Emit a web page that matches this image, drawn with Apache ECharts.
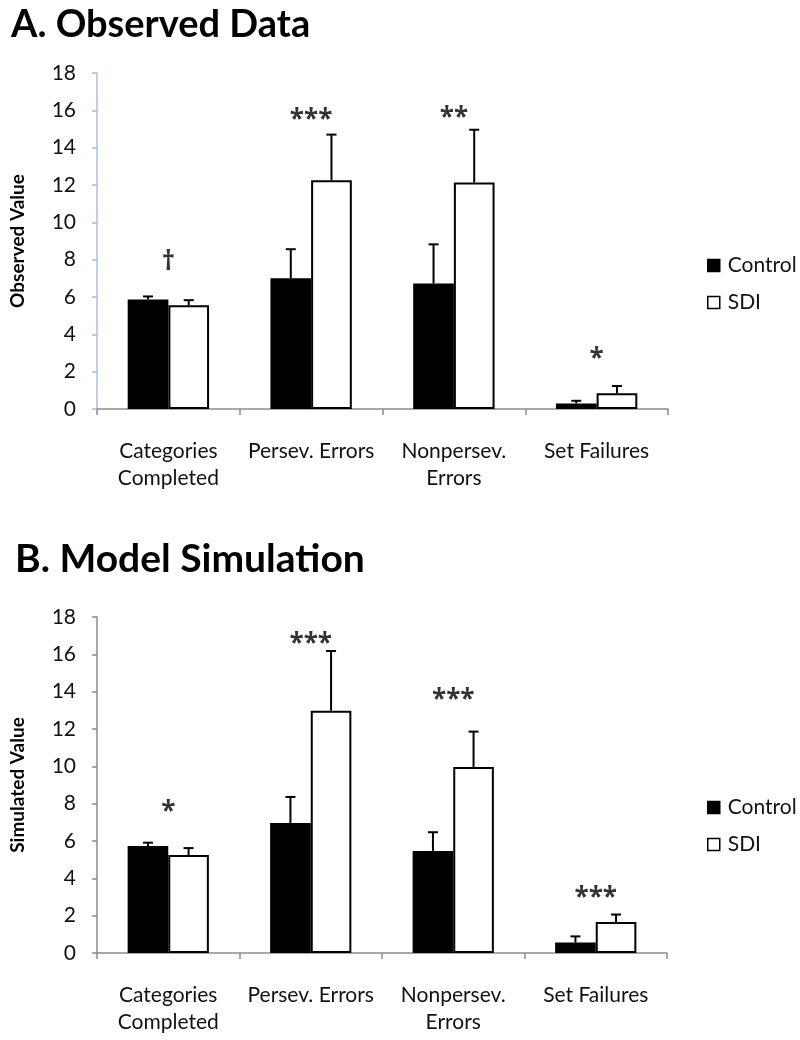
<!DOCTYPE html>
<html>
<head>
<meta charset="utf-8">
<script src="https://cdn.jsdelivr.net/npm/echarts@6/dist/echarts.min.js"></script>
<style>
  html, body { margin: 0; padding: 0; background: #fff; }
  #chart { width: 800px; height: 1040px; }
</style>
</head>
<body>
<div id="chart"></div>
<script>
// ---- data ----
const categories = ['Categories\nCompleted', 'Persev. Errors', 'Nonpersev.\nErrors', 'Set Failures'];
const seriesNames = ['Control', 'SDI'];
const yTicks = [0, 2, 4, 6, 8, 10, 12, 14, 16, 18];

const obsControl    = [5.87, 7.0, 6.72, 0.30];
const obsControlErr = [0.16, 1.56, 2.10, 0.14];
const obsSDI        = [5.56, 12.25, 12.14, 0.84];
const obsSDIErr     = [0.27, 2.45, 2.82, 0.39];
const obsSig        = ['†', '***', '**', '*'];
const obsSigY       = [8.1, 15.7, 15.8, 2.9];

const simControl    = [5.73, 6.96, 5.46, 0.56];
const simControlErr = [0.18, 1.40, 1.01, 0.33];
const simSDI        = [5.25, 12.98, 9.96, 1.66];
const simSDIErr     = [0.37, 3.20, 1.90, 0.40];
const simSig        = ['*', '***', '***', '***'];
const simSigY       = [7.8, 16.8, 13.8, 3.2];

// ---- chart ----
const FONT = 'Lato';
const CAT_GAP = 0.43;
const chart = echarts.init(document.getElementById('chart'), null, { renderer: 'canvas' });

function errorSeries(gridIdx, vals, errs, side) {
  return {
    type: 'custom',
    xAxisIndex: gridIdx, yAxisIndex: gridIdx,
    silent: true, z: 5,
    data: vals.map((v, i) => [i, v, errs[i]]),
    encode: { x: 0, y: 1 },
    renderItem: function (params, api) {
      const idx = api.value(0), v = api.value(1), e = api.value(2);
      const catW = api.size([1, 0])[0];
      const barW = catW * (1 - CAT_GAP) / 2;
      const base = api.coord([idx, v]);
      const top = api.coord([idx, v + e]);
      const x = base[0] + side * barW / 2;
      const cap = 5;
      const st = { stroke: '#000', lineWidth: 2 };
      return {
        type: 'group',
        children: [
          { type: 'line', shape: { x1: x, y1: base[1], x2: x, y2: top[1] }, style: st },
          { type: 'line', shape: { x1: x - cap, y1: top[1], x2: x + cap, y2: top[1] }, style: st }
        ]
      };
    }
  };
}

function sigSeries(gridIdx, labels, ys) {
  return {
    type: 'scatter',
    xAxisIndex: gridIdx, yAxisIndex: gridIdx,
    silent: true, symbolSize: 1, itemStyle: { color: 'rgba(0,0,0,0)' },
    data: ys.map((y, i) => [i, y]),
    label: {
      show: true, position: 'inside', offset: [0, 5],
      formatter: p => labels[p.dataIndex],
      color: '#000', fontSize: 26, fontFamily: 'Open Sans', fontWeight: 'bold'
    },
    z: 6
  };
}

function barSeries(gridIdx, name, vals, fill) {
  return {
    name: name, type: 'bar',
    xAxisIndex: gridIdx, yAxisIndex: gridIdx,
    data: vals,
    barGap: '0%', barCategoryGap: (CAT_GAP * 100) + '%',
    itemStyle: { color: fill, borderColor: '#000', borderWidth: 2 },
    silent: true
  };
}

function xAxis(gridIdx) {
  return {
    type: 'category', gridIndex: gridIdx, data: categories,
    axisLine: { lineStyle: { color: '#8c8c8c', width: 1.5 } },
    axisTick: { show: true, length: 6, lineStyle: { color: '#8c8c8c', width: 1.5 } },
    axisLabel: { color: '#111', fontSize: 21, fontFamily: FONT, margin: 29, lineHeight: 27, interval: 0 }
  };
}

function yAxis(gridIdx, name, lineColor) {
  return {
    type: 'value', gridIndex: gridIdx, min: 0, max: 18, interval: 2,
    name: name, nameLocation: 'middle', nameGap: 70, nameRotate: 90,
    nameTextStyle: { color: '#000', fontSize: 19, fontFamily: FONT, fontWeight: 'bold' },
    axisLine: { show: true, lineStyle: { color: lineColor, width: 1.5 } },
    axisTick: { show: true, length: 5, lineStyle: { color: lineColor, width: 1.5 } },
    splitLine: { show: false },
    axisLabel: { color: '#111', fontSize: 21, fontFamily: FONT, margin: 21,
      formatter: v => (yTicks.indexOf(v) >= 0 ? String(v) : '') }
  };
}

function legend(top) {
  return {
    orient: 'vertical', left: 702, top: top, itemGap: 16,
    itemWidth: 12, itemHeight: 12, icon: 'rect',
    textStyle: { color: '#111', fontSize: 21, fontFamily: FONT, padding: [0, 0, 0, 3] },
    data: [
      { name: seriesNames[0], itemStyle: { color: '#000', borderColor: '#000', borderWidth: 1.5 } },
      { name: seriesNames[1], itemStyle: { color: '#fff', borderColor: '#000', borderWidth: 1.5 } }
    ],
    selectedMode: false
  };
}

const option = {
  backgroundColor: '#fff',
  animation: false,
  title: [
    { text: 'A. Observed Data', left: 6, top: 1,
      textStyle: { fontSize: 38, fontWeight: 'bold', fontFamily: FONT, color: '#000' } },
    { text: 'B. Model Simulation', left: 10, top: 535,
      textStyle: { fontSize: 39, fontWeight: 'bold', fontFamily: FONT, color: '#000' } }
  ],
  legend: [legend(250), legend(792)],
  grid: [
    { left: 91, width: 577, top: 73, height: 336 },
    { left: 90, width: 577, top: 617, height: 336 }
  ],
  xAxis: [xAxis(0), xAxis(1)],
  yAxis: [yAxis(0, 'Observed Value', '#a8bfe4'), yAxis(1, 'Simulated Value', '#8c8c8c')],
  series: [
    barSeries(0, seriesNames[0], obsControl, '#000'),
    barSeries(0, seriesNames[1], obsSDI, '#fff'),
    errorSeries(0, obsControl, obsControlErr, -1),
    errorSeries(0, obsSDI, obsSDIErr, 1),
    sigSeries(0, obsSig, obsSigY),
    barSeries(1, seriesNames[0], simControl, '#000'),
    barSeries(1, seriesNames[1], simSDI, '#fff'),
    errorSeries(1, simControl, simControlErr, -1),
    errorSeries(1, simSDI, simSDIErr, 1),
    sigSeries(1, simSig, simSigY)
  ]
};
chart.setOption(option);
</script>
</body>
</html>
